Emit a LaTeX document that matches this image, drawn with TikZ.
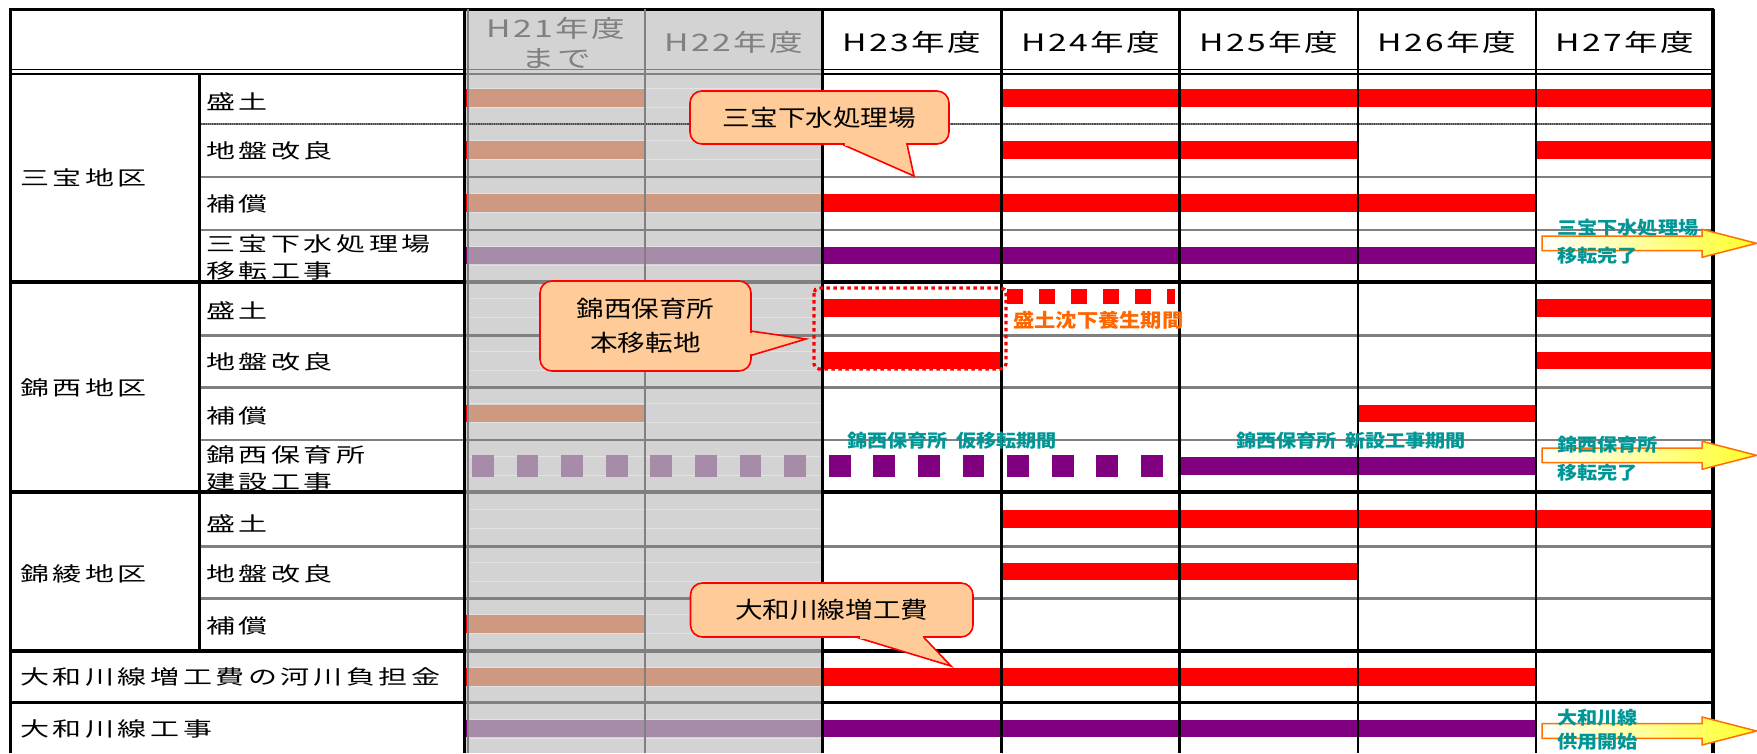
\documentclass[tikz,border=0pt]{standalone}
\usepackage{fontspec}
\newfontfamily\jpwide[FakeStretch=1.45,LetterSpace=18]{Noto Sans CJK JP}
\newfontfamily\jphead[FakeStretch=1.4,LetterSpace=10]{Noto Sans CJK JP}
\newfontfamily\jpcall[FakeStretch=1.2]{Noto Sans CJK JP}
\newfontfamily\jpnote[FakeStretch=1.12]{Noto Sans CJK JP}
\usetikzlibrary{calc}

\definecolor{pastgray}{RGB}{211,211,211}
\definecolor{pastline}{RGB}{128,128,128}
\definecolor{faintline}{RGB}{226,226,226}
\definecolor{barred}{RGB}{255,0,0}
\definecolor{bartan}{RGB}{207,152,128}
\definecolor{barpurple}{RGB}{128,0,128}
\definecolor{barlilac}{RGB}{166,140,168}
\definecolor{callfill}{RGB}{255,204,153}
\definecolor{noteteal}{RGB}{0,150,150}
\definecolor{noteorange}{RGB}{255,102,0}
\definecolor{arroworange}{RGB}{255,112,0}
\definecolor{arrowyellow}{RGB}{255,255,40}

\tikzset{
  cell/.style = {anchor=west, inner sep=0pt, align=left, font=\jpwide\fontsize{20}{27}\selectfont},
  yearhead/.style = {inner sep=0pt, align=center, font=\jphead\fontsize{24}{30}\selectfont},
  callbox/.style = {draw=red, line width=1.6pt, fill=callfill, rounded corners=12pt, inner sep=0pt, align=center, font=\jpcall\fontsize{23}{34}\selectfont},
  callptr/.style = {draw=red, line width=1.6pt, fill=callfill},
  tealnote/.style = {anchor=west, inner sep=0pt, align=left, text=noteteal, font=\jpnote\bfseries\fontsize{18}{28}\selectfont},
  gridblack/.style = {line width=2.5pt, black},
  gridgray/.style = {line width=2.5pt, pastline},
  arrowbody/.style = {draw=arroworange, line width=1.5pt, left color=white, right color=arrowyellow},
}

% district boundary: black, grey inside the past years
\newcommand\blockline[1]{%
  \draw[gridblack, line width=3.5pt] (9,#1) -- (466,#1) (822,#1) -- (1714,#1);
  \draw[gridgray, line width=3.5pt] (466,#1) -- (822,#1);}
% completion arrow in H27
\newcommand\donearrow[1]{%
  \path[arrowbody] (1542,#1-7.3) -- (1702,#1-7.3) -- (1702,#1-14) -- (1756.5,#1)
    -- (1702,#1+14) -- (1702,#1+7.3) -- (1542,#1+7.3) -- cycle;}

\begin{document}
\begin{tikzpicture}[x=1pt, y=-1pt]
\useasboundingbox (0,0) rectangle (1757,753);

% past years shading
\fill[pastgray] (466,9) rectangle (822,753);
\foreach \yc in {98,150,203,255.5,308,360.5,413.3,466,519,571.5,624,677,728.7}
  \draw[faintline, line width=1pt] (470,\yc-9.5) -- (821,\yc-9.5) (470,\yc+9.5) -- (821,\yc+9.5);

% bars
\foreach \yc/\xa/\xb/\col in {
  98/466/645/bartan, 98/1001/1712/barred,
  150/466/645/bartan, 150/1001/1358/barred, 150/1536/1712/barred,
  203/466/822/bartan, 203/823/1536/barred,
  255.5/466/822/barlilac, 255.5/823/1536/barpurple,
  308/823/1001/barred, 308/1536/1712/barred,
  360.5/823/1001/barred, 360.5/1536/1712/barred,
  413.3/466/645/bartan, 413.3/1358/1536/barred,
  466/1180/1536/barpurple,
  519/1001/1712/barred,
  571.5/1001/1358/barred,
  624/466/645/bartan,
  677/466/822/bartan, 677/823/1536/barred,
  728.7/466/822/barlilac, 728.7/823/1536/barpurple}
  \fill[\col] (\xa,\yc-8.7) rectangle (\xb,\yc+8.7);
\foreach \yc/\col in {98/barred,150/barred,203/barred,255.5/barpurple,413.3/barred,624/barred,677/barred,728.7/barpurple}
  \fill[\col] (465,\yc-8.7) rectangle (467.5,\yc+8.7);

% temporary relocation (dashed squares)
\foreach \i in {0,...,15} {
  \pgfmathsetmacro\xs{472+44.6*\i}
  \ifnum\i<8 \def\sqcol{barlilac}\else\def\sqcol{barpurple}\fi
  \fill[\sqcol] (\xs,455) rectangle (\xs+21.7,477);
}

% horizontal rules
\draw[gridblack, line width=3pt] (9,9) -- (1714,9);
\draw[gridblack, line width=1.6pt] (9,69.5) -- (466,69.5) (822,69.5) -- (1714,69.5)
  (9,74) -- (466,74) (822,74) -- (1714,74);
\draw[gridgray, line width=1.6pt] (466,69.5) -- (822,69.5) (466,74) -- (822,74);
\draw[gridgray, line width=2pt] (199,124) -- (1714,124);
\draw[black!70, line width=1.2pt, densely dotted] (199,124) -- (1714,124);
\foreach \yr in {177,230,335.5,387.5,440,546.5,598.5}
  \draw[gridgray] (199,\yr) -- (1714,\yr);
\blockline{282}
\blockline{492}
\blockline{651}
\blockline{702.5}

% vertical rules
\draw[gridblack, line width=3pt] (10.5,9) -- (10.5,753);
\draw[gridblack, line width=3pt] (199,74) -- (199,651);
\draw[gridblack, line width=3pt] (464,9) -- (464,753);
\draw[gridgray] (468,9) -- (468,753);
\draw[gridgray] (645,9) -- (645,753);
\foreach \xv in {822.7,1001.5,1179.5,1358}
  \draw[gridblack] (\xv,9) -- (\xv,753);
\draw[gridblack, line width=2pt] (1536,9) -- (1536,753);
\draw[gridblack, line width=3.5pt] (1713,9) -- (1713,753);

% header
\node[yearhead, text=pastline] (h21) at (556,42.5) {H21年度\\まで};
\node[yearhead, text=pastline] (h22) at (734,42.5) {H22年度};
\node[yearhead] (h23) at (912,42.5) {H23年度};
\node[yearhead] (h24) at (1090.5,42.5) {H24年度};
\node[yearhead] (h25) at (1269,42.5) {H25年度};
\node[yearhead] (h26) at (1447,42.5) {H26年度};
\node[yearhead] (h27) at (1625,42.5) {H27年度};

% row labels
\node[cell] (sanpo) at (20,178) {三宝地区};
\node[cell] (sanpoMori) at (206,101.5) {盛土};
\node[cell] (sanpoJiban) at (206,151) {地盤改良};
\node[cell] (sanpoHosho) at (206,203.7) {補償};
\node[cell] (sanpoIten) at (206,257.5) {三宝下水処理場\\移転工事};
\node[cell] (nishi) at (20,388) {錦西地区};
\node[cell] (nishiMori) at (206,310.8) {盛土};
\node[cell] (nishiJiban) at (206,362.3) {地盤改良};
\node[cell] (nishiHosho) at (206,415.8) {補償};
\node[cell] (nishiHoiku) at (206,468) {錦西保育所\\建設工事};
\node[cell] (ryo) at (20,574) {錦綾地区};
\node[cell] (ryoMori) at (206,524) {盛土};
\node[cell] (ryoJiban) at (206,574) {地盤改良};
\node[cell] (ryoHosho) at (206,626) {補償};
\node[cell] (futan) at (20,677) {大和川線増工費の河川負担金};
\node[cell] (koji) at (20,729) {大和川線工事};

% settlement period
\draw[red, line width=3.2pt, dash pattern=on 3.5pt off 3.5pt, rounded corners=5pt] (814,288) rectangle (1006,369);
\draw[red, line width=15pt, dash pattern=on 16pt off 16pt] (1007,296) -- (1175,296);
\node[anchor=west, inner sep=0pt, text=noteorange, font=\jpnote\bfseries\fontsize{19}{22}\selectfont] (chinka) at (1013,320.5) {盛土沈下養生期間};

% periods of the nursery school
\node[tealnote] (kariIten) at (847,441) {錦西保育所\hspace{0.45em}仮移転期間};
\node[tealnote] (shinsetsu) at (1236,441) {錦西保育所\hspace{0.45em}新設工事期間};

% completion arrows
\donearrow{243.3}
\donearrow{455.3}
\donearrow{731}
\node[tealnote] (doneSanpo) at (1557,241.5) {三宝下水処理場\\移転完了};
\node[tealnote] (doneNishi) at (1557,458.5) {錦西保育所\\移転完了};
\node[tealnote] (doneYamato) at (1557,730) {大和川線\\[-4pt]供用開始};

% callouts
\node[callbox, minimum width=259pt, minimum height=53pt] (calloutSanpo) at (819.5,117.5) {三宝下水処理場};
\coordinate (tipSanpo) at (914,176);
\draw[callptr] ($(calloutSanpo.south west)+(154,0)$) -- (tipSanpo) -- ($(calloutSanpo.south west)+(218,0)$);
\fill[callfill] ($(calloutSanpo.south west)+(155.5,-1.6)$) rectangle ($(calloutSanpo.south west)+(216.5,1.2)$);

\node[callbox, minimum width=211pt, minimum height=90pt] (calloutNishi) at (645.5,326) {錦西保育所\\本移転地};
\coordinate (tipNishi) at (806,339);
\draw[callptr] ($(calloutNishi.north east)+(0,51)$) -- (tipNishi) -- ($(calloutNishi.north east)+(0,75)$);
\fill[callfill] ($(calloutNishi.north east)+(-1.6,52.5)$) rectangle ($(calloutNishi.north east)+(1.2,73.5)$);

\node[callbox, minimum width=282.5pt, minimum height=54pt] (calloutYamato) at (831.75,610) {大和川線増工費};
\coordinate (tipYamato) at (951,666);
\draw[callptr] ($(calloutYamato.south west)+(168.5,0)$) -- (tipYamato) -- ($(calloutYamato.south west)+(234.5,0)$);
\fill[callfill] ($(calloutYamato.south west)+(170,-1.6)$) rectangle ($(calloutYamato.south west)+(233,1.2)$);
\end{tikzpicture}
\end{document}
